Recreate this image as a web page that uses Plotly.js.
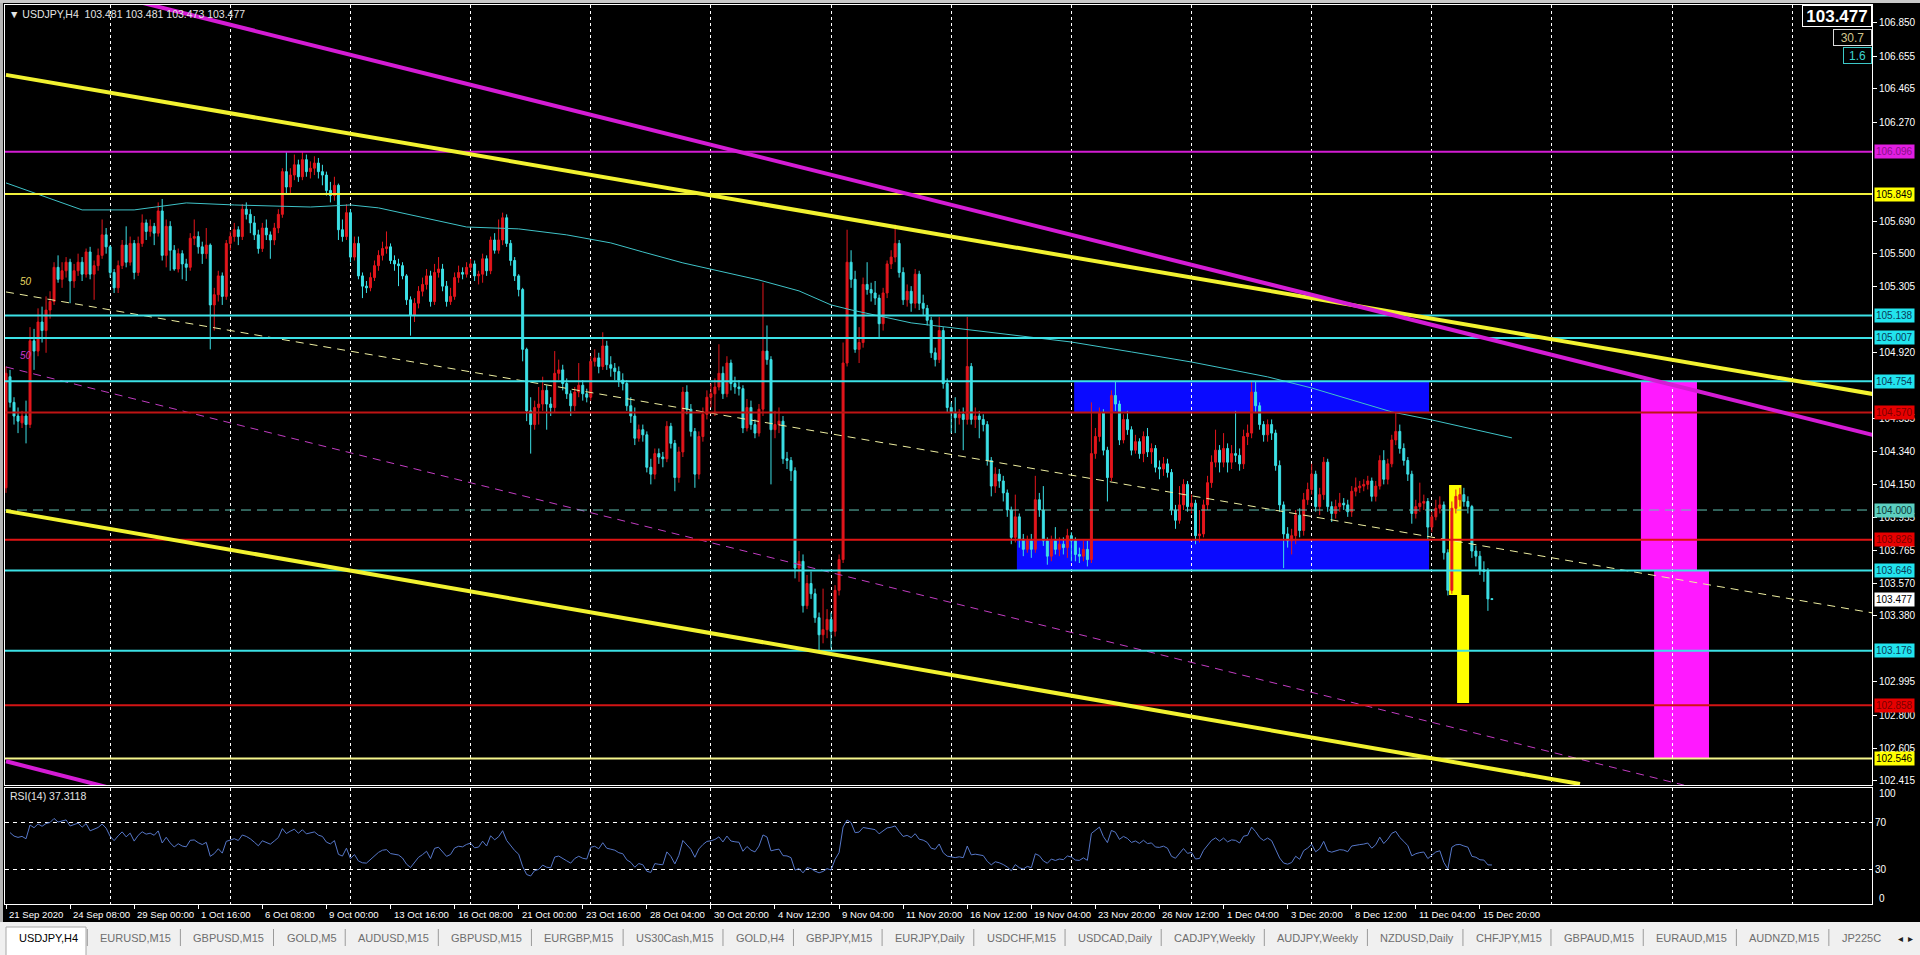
<!DOCTYPE html>
<html>
<head>
<meta charset="utf-8">
<title>USDJPY,H4</title>
<script src="https://cdn.plot.ly/plotly-3.0.1.min.js"></script>
<style>
  html, body { margin: 0; padding: 0; background: #000; overflow: hidden; }
  #chart { width: 1920px; height: 955px; }
</style>
</head>
<body>
<div id="chart"></div>
<script>
// ---- bars (H4, index 0 = first visible bar) ----
var opens = [
104.13,104.78,104.63,104.55,104.51,104.55,104.50,104.99,104.93,105.10,
105.05,105.17,105.22,105.42,105.35,105.40,105.45,105.34,105.40,105.45,
105.38,105.51,105.38,105.43,105.49,105.61,105.54,105.39,105.30,105.43,
105.55,105.45,105.56,105.39,105.56,105.68,105.63,105.66,105.62,105.75,
105.49,105.66,105.52,105.41,105.50,105.44,105.42,105.59,105.60,105.54,
105.50,105.55,105.20,105.26,105.37,105.25,105.56,105.60,105.64,105.60,
105.76,105.73,105.68,105.61,105.53,105.65,105.61,105.58,105.65,105.73,
105.98,105.89,105.96,106.02,105.95,106.05,105.98,106.00,106.03,105.98,
105.96,105.87,105.84,105.90,105.64,105.60,105.74,105.48,105.56,105.37,
105.31,105.30,105.36,105.43,105.49,105.53,105.54,105.46,105.44,105.43,
105.37,105.23,105.14,105.21,105.28,105.32,105.37,105.22,105.39,105.41,
105.31,105.22,105.25,105.36,105.39,105.38,105.42,105.44,105.37,105.38,
105.47,105.40,105.58,105.52,105.58,105.71,105.56,105.46,105.37,105.29,
104.94,104.58,104.50,104.60,104.62,104.70,104.62,104.60,104.80,104.82,
104.74,104.68,104.61,104.69,104.73,104.68,104.66,104.87,104.89,104.84,
104.96,104.85,104.83,104.81,104.76,104.74,104.61,104.55,104.42,104.47,
104.44,104.25,104.21,104.33,104.31,104.30,104.49,104.39,104.19,104.34,
104.69,104.59,104.46,104.21,104.43,104.56,104.66,104.68,104.72,104.80,
104.68,104.86,104.74,104.72,104.71,104.48,104.60,104.50,104.45,104.59,
104.93,104.88,104.47,104.50,104.52,104.30,104.29,104.23,103.66,103.70,
103.44,103.57,103.51,103.37,103.27,103.30,103.36,103.29,103.53,103.71,
104.86,105.45,105.35,104.94,104.98,105.32,105.29,105.27,105.24,105.09,
105.27,105.44,105.48,105.56,105.39,105.23,105.28,105.21,105.38,105.21,
105.18,105.11,104.92,104.88,105.05,104.74,104.60,104.57,104.54,104.56,
104.53,104.84,104.53,104.55,104.53,104.50,104.29,104.14,104.21,104.17,
104.10,104.00,103.84,103.96,103.83,103.77,103.82,103.77,104.06,104.00,
103.82,103.73,103.82,103.77,103.80,103.78,103.85,103.82,103.74,103.73,
103.77,103.71,104.33,104.43,104.57,104.35,104.19,104.67,104.62,104.41,
104.53,104.47,104.35,104.40,104.33,104.43,104.34,104.36,104.25,104.24,
104.27,104.22,104.00,103.94,104.03,104.15,104.02,104.04,103.85,103.86,
104.03,104.16,104.28,104.35,104.28,104.36,104.28,104.33,104.32,104.27,
104.43,104.45,104.69,104.61,104.50,104.44,104.50,104.45,104.26,104.03,
103.86,103.82,103.85,103.97,103.88,104.06,104.12,104.21,104.02,104.09,
104.28,104.02,103.98,104.02,104.04,104.03,103.99,104.11,104.13,104.14,
104.15,104.17,104.08,104.14,104.29,104.18,104.27,104.41,104.46,104.36,
104.29,104.21,103.98,104.02,104.04,104.05,103.90,103.96,104.01,104.03,
103.75,103.53,104.01,104.06,104.09,104.05,104.02,103.76,103.73,103.65,
103.64,103.481
];
var highs = [
104.84,104.82,104.66,104.60,104.58,104.64,105.07,105.06,105.18,105.19,
105.25,105.28,105.45,105.49,105.45,105.48,105.47,105.44,105.50,105.48,
105.53,105.54,105.46,105.53,105.70,105.65,105.55,105.41,105.46,105.58,
105.66,105.60,105.58,105.60,105.73,105.70,105.70,105.68,105.80,105.82,
105.70,105.69,105.55,105.53,105.52,105.47,105.62,105.70,105.63,105.57,
105.65,105.56,105.30,105.40,105.39,105.58,105.63,105.68,105.66,105.79,
105.80,105.76,105.72,105.64,105.68,105.70,105.63,105.68,105.76,106.00,
106.10,106.00,106.08,106.05,106.10,106.08,106.04,106.07,106.06,106.02,
105.98,105.92,105.95,105.91,105.70,105.79,105.76,105.60,105.60,105.39,
105.34,105.39,105.46,105.52,105.57,105.63,105.56,105.49,105.47,105.45,
105.38,105.25,105.24,105.31,105.36,105.41,105.40,105.44,105.48,105.44,
105.34,105.30,105.39,105.43,105.42,105.45,105.47,105.46,105.40,105.50,
105.49,105.60,105.62,105.70,105.74,105.73,105.58,105.48,105.38,105.30,
104.95,104.66,104.64,104.72,104.78,104.73,104.66,104.93,104.88,104.85,
104.77,104.70,104.72,104.86,104.76,104.71,104.90,104.94,104.92,105.04,
104.99,104.90,104.86,104.84,104.80,104.76,104.66,104.60,104.50,104.50,
104.46,104.30,104.36,104.36,104.34,104.52,104.51,104.41,104.37,104.72,
104.73,104.62,104.48,104.46,104.60,104.70,104.74,104.77,104.97,104.84,
104.90,104.88,104.78,104.76,104.73,104.65,104.64,104.53,104.62,105.33,
105.08,104.90,104.58,104.60,104.55,104.34,104.31,104.25,103.76,103.74,
103.62,103.64,103.54,103.40,103.54,103.42,103.40,103.56,103.74,104.98,
105.64,105.52,105.40,105.07,105.36,105.45,105.33,105.34,105.26,105.30,
105.46,105.52,105.67,105.58,105.42,105.32,105.31,105.41,105.40,105.26,
105.20,105.13,104.95,105.13,105.07,104.77,104.63,104.66,104.59,104.60,
105.13,104.86,104.60,104.58,104.56,104.52,104.31,104.25,104.24,104.20,
104.12,104.02,104.09,103.98,103.86,103.85,103.86,104.20,104.10,104.14,
103.84,103.85,103.90,103.84,103.84,103.89,103.87,103.84,103.78,103.82,
103.82,104.63,104.48,104.60,104.59,104.37,104.70,104.75,104.64,104.56,
104.58,104.49,104.44,104.42,104.46,104.48,104.39,104.38,104.29,104.31,
104.30,104.24,104.03,104.14,104.18,104.17,104.09,104.06,104.00,104.06,
104.20,104.32,104.47,104.38,104.45,104.39,104.38,104.58,104.36,104.47,
104.50,104.75,104.75,104.63,104.52,104.53,104.53,104.47,104.29,104.05,
103.90,103.89,104.00,104.01,104.10,104.16,104.27,104.23,104.13,104.31,
104.30,104.05,104.06,104.10,104.07,104.06,104.14,104.19,104.17,104.18,
104.20,104.19,104.17,104.32,104.35,104.30,104.44,104.57,104.50,104.39,
104.31,104.23,104.06,104.16,104.09,104.07,103.99,104.06,104.08,104.05,
103.77,104.05,104.12,104.13,104.13,104.08,104.03,103.79,103.76,103.70,
103.66,103.481
];
var lows = [
104.10,104.60,104.50,104.45,104.48,104.39,104.48,104.82,104.90,104.98,
104.92,105.12,105.20,105.33,105.30,105.36,105.21,105.30,105.37,105.34,
105.36,105.35,105.23,105.40,105.47,105.50,105.36,105.27,105.27,105.41,
105.42,105.43,105.35,105.37,105.54,105.58,105.60,105.55,105.60,105.46,
105.42,105.40,105.40,105.39,105.35,105.34,105.40,105.55,105.50,105.44,
105.47,104.94,105.05,105.22,105.20,105.23,105.52,105.57,105.55,105.58,
105.70,105.62,105.58,105.50,105.51,105.58,105.47,105.55,105.62,105.71,
105.85,105.85,105.93,105.92,105.93,105.95,105.94,105.96,105.94,105.90,
105.84,105.80,105.81,105.58,105.57,105.58,105.45,105.46,105.35,105.24,
105.27,105.28,105.34,105.40,105.46,105.50,105.44,105.40,105.31,105.35,
105.20,105.02,105.10,105.18,105.25,105.29,105.19,105.20,105.36,105.28,
105.19,105.20,105.23,105.33,105.35,105.36,105.40,105.34,105.32,105.33,
105.37,105.38,105.50,105.50,105.55,105.54,105.43,105.34,105.25,104.87,
104.52,104.33,104.47,104.50,104.58,104.47,104.55,104.57,104.76,104.70,
104.65,104.55,104.58,104.66,104.64,104.63,104.64,104.84,104.80,104.82,
104.82,104.78,104.76,104.72,104.70,104.58,104.51,104.38,104.40,104.40,
104.22,104.15,104.18,104.27,104.25,104.28,104.36,104.11,104.16,104.31,
104.56,104.43,104.13,104.18,104.40,104.53,104.60,104.55,104.70,104.65,
104.66,104.70,104.68,104.67,104.45,104.46,104.47,104.42,104.43,104.55,
104.85,104.15,104.42,104.45,104.27,104.24,104.17,103.60,103.58,103.40,
103.42,103.48,103.34,103.18,103.22,103.25,103.19,103.26,103.50,103.69,
104.84,105.30,104.92,104.86,104.95,105.26,105.22,105.20,105.00,105.05,
105.24,105.41,105.45,105.36,105.20,105.19,105.16,105.18,105.17,105.14,
105.08,104.89,104.84,104.86,104.71,104.57,104.45,104.45,104.50,104.35,
104.50,104.50,104.48,104.42,104.46,104.26,104.08,104.10,104.13,104.05,
103.96,103.80,103.81,103.78,103.73,103.75,103.72,103.75,103.96,103.79,
103.68,103.70,103.74,103.73,103.74,103.72,103.70,103.70,103.69,103.70,
103.67,103.69,104.30,104.40,104.32,104.05,104.17,104.58,104.38,104.39,
104.44,104.32,104.33,104.30,104.28,104.31,104.27,104.22,104.18,104.20,
104.19,103.97,103.89,103.92,104.00,103.99,103.98,103.80,103.81,103.84,
104.00,104.13,104.25,104.22,104.25,104.22,104.24,104.28,104.23,104.24,
104.38,104.42,104.57,104.47,104.40,104.40,104.41,104.23,103.99,103.66,
103.78,103.74,103.80,103.84,103.85,104.03,104.09,103.99,103.97,104.06,
103.99,103.93,103.95,103.99,104.00,103.96,103.96,104.08,104.10,104.11,
104.12,104.05,104.05,104.12,104.15,104.15,104.25,104.38,104.33,104.26,
104.17,103.92,103.95,103.99,104.00,103.83,103.87,103.94,103.98,103.71,
103.50,103.51,103.98,104.02,104.02,103.98,103.72,103.67,103.62,103.58,
103.41,103.473
];
var closes = [
104.80,104.63,104.55,104.52,104.55,104.50,104.99,104.93,105.10,105.05,
105.17,105.22,105.42,105.35,105.40,105.45,105.34,105.40,105.45,105.38,
105.51,105.38,105.43,105.49,105.61,105.54,105.39,105.30,105.43,105.55,
105.45,105.56,105.39,105.56,105.68,105.63,105.66,105.62,105.75,105.49,
105.66,105.52,105.41,105.50,105.44,105.42,105.59,105.60,105.54,105.50,
105.55,105.20,105.26,105.37,105.25,105.56,105.60,105.64,105.60,105.76,
105.73,105.68,105.61,105.53,105.65,105.61,105.58,105.65,105.73,105.98,
105.89,105.96,106.02,105.95,106.05,105.98,106.00,106.03,105.98,105.96,
105.87,105.84,105.90,105.64,105.60,105.74,105.48,105.56,105.37,105.31,
105.30,105.36,105.43,105.49,105.53,105.54,105.46,105.44,105.43,105.37,
105.23,105.14,105.21,105.28,105.32,105.37,105.22,105.39,105.41,105.31,
105.22,105.25,105.36,105.39,105.38,105.42,105.44,105.37,105.38,105.47,
105.40,105.58,105.52,105.58,105.71,105.56,105.46,105.37,105.29,104.94,
104.58,104.50,104.60,104.62,104.70,104.62,104.60,104.80,104.82,104.74,
104.68,104.61,104.69,104.73,104.68,104.66,104.87,104.89,104.84,104.96,
104.85,104.83,104.81,104.76,104.74,104.61,104.55,104.42,104.47,104.44,
104.25,104.21,104.33,104.31,104.30,104.49,104.39,104.19,104.34,104.69,
104.59,104.46,104.21,104.43,104.56,104.66,104.68,104.72,104.80,104.68,
104.86,104.74,104.72,104.71,104.48,104.60,104.50,104.45,104.59,104.93,
104.88,104.47,104.50,104.52,104.30,104.29,104.23,103.66,103.70,103.44,
103.57,103.51,103.37,103.27,103.30,103.36,103.29,103.53,103.71,104.86,
105.45,105.35,104.94,104.98,105.32,105.29,105.27,105.24,105.09,105.27,
105.44,105.48,105.56,105.39,105.23,105.28,105.21,105.38,105.21,105.18,
105.11,104.92,104.88,105.05,104.74,104.60,104.57,104.54,104.56,104.53,
104.84,104.53,104.55,104.53,104.50,104.29,104.14,104.21,104.17,104.10,
104.00,103.84,103.96,103.83,103.77,103.82,103.77,104.06,104.00,103.82,
103.73,103.82,103.77,103.80,103.78,103.85,103.82,103.74,103.73,103.77,
103.71,104.33,104.43,104.57,104.35,104.19,104.67,104.62,104.41,104.53,
104.47,104.35,104.40,104.33,104.43,104.34,104.36,104.25,104.24,104.27,
104.22,104.00,103.94,104.03,104.15,104.02,104.04,103.85,103.86,104.03,
104.16,104.28,104.35,104.28,104.36,104.28,104.33,104.32,104.27,104.43,
104.45,104.69,104.61,104.50,104.44,104.50,104.45,104.26,104.03,103.86,
103.82,103.85,103.97,103.88,104.06,104.12,104.21,104.02,104.09,104.28,
104.02,103.98,104.02,104.04,104.03,103.99,104.11,104.13,104.14,104.15,
104.17,104.08,104.14,104.29,104.18,104.27,104.41,104.46,104.36,104.29,
104.21,103.98,104.02,104.04,104.05,103.90,103.96,104.01,104.03,103.75,
103.53,104.01,104.08,104.09,104.05,104.02,103.76,103.73,103.65,103.64,
103.48,103.477
];

// time axis labels (bar index -> text)
var labelIdx = [0,16,32,48,64,80,96,112,128,144,160,176,192,208,224,240,256,272,288,304,320,336,352,368];
var labelText = ['21 Sep 2020','24 Sep 08:00','29 Sep 00:00','1 Oct 16:00','6 Oct 08:00','9 Oct 00:00',
  '13 Oct 16:00','16 Oct 08:00','21 Oct 00:00','23 Oct 16:00','28 Oct 04:00','30 Oct 20:00',
  '4 Nov 12:00','9 Nov 04:00','11 Nov 20:00','16 Nov 12:00','19 Nov 04:00','23 Nov 20:00',
  '26 Nov 12:00','1 Dec 04:00','3 Dec 20:00','8 Dec 12:00','11 Dec 04:00','15 Dec 20:00'];

// price scale labels (those hidden under the level boxes left out)
var priceTicks = [106.850,106.655,106.465,106.270,105.690,105.500,105.305,
  104.920,104.535,104.340,104.150,103.955,103.765,103.570,103.380,
  102.995,102.800,102.605,102.415];

// moving average
var maIdx = [0,19,32,45,57,76,86,93,115,128,140,151,159,169,188,198,206,211,226,252,266,281,296,315,326,346,356,376];
var maVal = [105.914,105.756,105.756,105.797,105.785,105.773,105.785,105.768,105.656,105.645,105.610,105.563,
  105.510,105.446,105.346,105.282,105.200,105.171,105.095,105.024,104.983,104.925,104.866,104.779,
  104.714,104.574,104.527,104.422];

// horizontal price levels
var levelPrices = [106.096,105.849,105.138,105.007,104.754,104.570,104.000,103.826,103.646,103.176,102.858,102.546];

// trend lines: bar index / price of both ends
var trendX0 = [0, 0, 20, 0, 0, 0];
var trendY0 = [106.546, 103.995, 107.05, 102.53, 105.276, 104.837];
var trendX1 = [466, 393, 466, 30, 466, 419];
var trendY1 = [104.679, 102.397, 104.44, 102.35, 103.398, 102.39];

// zones
var zoneX0 = [266.7, 252.4, 408.2, 411.5, 360.3, 362.3];
var zoneX1 = [355.3, 355.3, 422.2, 425.2, 363.4, 365.3];
var zoneY0 = [104.570, 103.646, 103.646, 102.546, 103.503, 102.871];
var zoneY1 = [104.754, 103.826, 104.754, 103.646, 104.147, 103.503];

var tabNames = ['USDJPY,H4','EURUSD,M15','GBPUSD,M15','GOLD,M5','AUDUSD,M15','GBPUSD,M15','EURGBP,M15',
  'US30Cash,M15','GOLD,H4','GBPJPY,M15','EURJPY,Daily','USDCHF,M15','USDCAD,Daily','CADJPY,Weekly',
  'AUDJPY,Weekly','NZDUSD,Daily','CHFJPY,M15','GBPAUD,M15','EURAUD,M15','AUDNZD,M15','JP225C'];

// ---- styles ----
var W = 1920, H = 955;
function px(x) { return x / W; }
function py(y) { return 1 - y / H; }
var FONT = 'Liberation Sans, Arial, sans-serif';
var xMin = -0.25, xMax = 465.9;
var yMin = 102.391, yMax = 106.955;
var UP = '#e3161c', DOWN = '#3ce0e6', CYAN = '#3ce1e6';

var levelColor = ['#d21cd2','#f0f03c',CYAN,CYAN,CYAN,'#bf1414','#62c4b4','#e01414',CYAN,CYAN,'#d21414','#f5f58c'];
var levelWidth = [2,2,2,2,2,2,1,2,2,2,2,2];
var levelDash = ['solid','solid','solid','solid','solid','solid','10px,6px','solid','solid','solid','solid','solid'];
var boxBg = ['#e21ee2','#ffff00','#22e4ee','#22e4ee','#22e4ee','#e60000','#5ccfc0','#e60000','#22e4ee','#22e4ee','#e60000','#ffff00'];
var boxFg = ['#8a108a','#000000','#0a3a58','#0a3a58','#0a3a58','#7a0000','#0e3a3a','#7a0000','#0a3a58','#0a3a58','#7a0000','#000000'];

var trendColor = ['#f2f230','#f2f230','#d41cd4','#d41cd4','#eeeea0','#c23cc2'];
var trendWidth = [4, 4, 4, 4, 1, 1];
var trendDash = ['solid','solid','solid','solid','8px,6px','8px,6px'];

var zoneFill = ['#0a0aff','#0a0aff','#ff19ff','#ff19ff','#ffff00','#ffff00'];

function rsi(c, n) {
  var g = 0, l = 0;
  for (var i = 1; i <= n; i++) {
    var d = c[i] - c[i - 1];
    if (d > 0) g += d; else l -= d;
  }
  g /= n; l /= n;
  var out = [null];
  for (var i = 1; i < c.length; i++) {
    var d = c[i] - c[i - 1];
    g = (g * (n - 1) + Math.max(d, 0)) / n;
    l = (l * (n - 1) + Math.max(-d, 0)) / n;
    out.push(l === 0 ? 100 : 100 - 100 / (1 + g / l));
  }
  return out;
}

var bars = closes.map(function (v, i) { return i; });
var traces = [];

traces.push({ type: 'scatter', mode: 'lines', x: maIdx, y: maVal,
  line: { color: '#3fc3c8', width: 1 }, hoverinfo: 'skip' });

for (var t = 4; t < 6; t++) {
  traces.push({ type: 'scatter', mode: 'lines', x: [trendX0[t], trendX1[t]], y: [trendY0[t], trendY1[t]],
    line: { color: trendColor[t], width: trendWidth[t], dash: trendDash[t] }, hoverinfo: 'skip' });
}

traces.push({
  type: 'candlestick', x: bars, open: opens, high: highs, low: lows, close: closes,
  increasing: { line: { color: UP, width: 1 }, fillcolor: UP },
  decreasing: { line: { color: DOWN, width: 1 }, fillcolor: DOWN },
  whiskerwidth: 0, hoverinfo: 'skip'
});

for (var k = 0; k < levelPrices.length; k++) {
  traces.push({ type: 'scatter', mode: 'lines', x: [xMin - 1, xMax + 1], y: [levelPrices[k], levelPrices[k]],
    line: { color: levelColor[k], width: levelWidth[k], dash: levelDash[k] }, hoverinfo: 'skip' });
}

for (var t = 0; t < 4; t++) {
  traces.push({ type: 'scatter', mode: 'lines', x: [trendX0[t], trendX1[t]], y: [trendY0[t], trendY1[t]],
    line: { color: trendColor[t], width: trendWidth[t] }, hoverinfo: 'skip' });
}

var rsiVals = rsi(closes, 14);
traces.push({ type: 'scatter', mode: 'lines', x: bars, y: rsiVals, xaxis: 'x2', yaxis: 'y2',
  line: { color: '#5677c8', width: 1 }, hoverinfo: 'skip' });
traces.push({ type: 'scatter', mode: 'markers', x: [], y: [], xaxis: 'x3', yaxis: 'y2', hoverinfo: 'skip' });

// ---- shapes ----
var shapes = [];
for (var z = 0; z < zoneFill.length; z++) {
  shapes.push({ type: 'rect', xref: 'x', yref: 'y', x0: zoneX0[z], x1: zoneX1[z], y0: zoneY0[z], y1: zoneY1[z],
    fillcolor: zoneFill[z], line: { width: 0 }, layer: 'below' });
}
// window chrome (kept under the axis labels)
shapes.push({ type: 'rect', xref: 'paper', yref: 'paper', x0: 0, x1: 1, y0: 0, y1: py(922),
  fillcolor: '#f0f0f0', line: { width: 0 }, layer: 'below' });
shapes.push({ type: 'rect', xref: 'paper', yref: 'paper', x0: px(6), x1: px(86), y0: -0.01, y1: py(927),
  fillcolor: '#ffffff', line: { color: '#a8a8a8', width: 1 }, layer: 'below' });
shapes.push({ type: 'rect', xref: 'paper', yref: 'paper', x0: 0, x1: px(3), y0: py(922), y1: 1,
  fillcolor: '#b4b4b4', line: { width: 0 }, layer: 'below' });
shapes.push({ type: 'rect', xref: 'paper', yref: 'paper', x0: 0, x1: 1, y0: py(3), y1: 1,
  fillcolor: '#c8c8c8', line: { width: 0 }, layer: 'below' });

// ---- annotations ----
var ann = [];
for (var k = 0; k < levelPrices.length; k++) {
  ann.push({ xref: 'paper', yref: 'y', x: px(1874), y: levelPrices[k], xanchor: 'left', yanchor: 'middle',
    text: levelPrices[k].toFixed(3), showarrow: false, bgcolor: boxBg[k], borderpad: 1,
    font: { family: FONT, size: 10, color: boxFg[k] } });
}
var last = closes[closes.length - 1];
ann.push({ xref: 'paper', yref: 'y', x: px(1874), y: last, xanchor: 'left', yanchor: 'middle',
  text: last.toFixed(3), showarrow: false, bgcolor: '#ffffff', borderpad: 1,
  font: { family: FONT, size: 10, color: '#000000' } });

ann.push({ xref: 'paper', yref: 'paper', x: px(7), y: py(14), xanchor: 'left', yanchor: 'middle', showarrow: false,
  text: '\u25BC USDJPY,H4  ' + opens[opens.length - 1].toFixed(3) + ' ' + highs[highs.length - 1].toFixed(3) + ' ' +
    lows[lows.length - 1].toFixed(3) + ' ' + last.toFixed(3),
  font: { family: FONT, size: 10.5, color: '#e4e4e4' } });
ann.push({ xref: 'paper', yref: 'paper', x: px(1837), y: py(16.5), xanchor: 'center', yanchor: 'middle', showarrow: false,
  text: '<b>' + last.toFixed(3) + '</b>', bgcolor: '#000000', bordercolor: '#ffffff', borderwidth: 1,
  width: 66, height: 18, font: { family: FONT, size: 17, color: '#ffffff' } });
ann.push({ xref: 'paper', yref: 'paper', x: px(1852.5), y: py(37), xanchor: 'center', yanchor: 'middle', showarrow: false,
  text: '30.7', bgcolor: '#000000', bordercolor: '#dcdcdc', borderwidth: 1, width: 35, height: 13,
  font: { family: FONT, size: 12, color: '#d2c58e' } });
ann.push({ xref: 'paper', yref: 'paper', x: px(1857.5), y: py(55), xanchor: 'center', yanchor: 'middle', showarrow: false,
  text: '1.6', bgcolor: '#000000', bordercolor: '#3cc8c8', borderwidth: 1, width: 25, height: 13,
  font: { family: FONT, size: 12, color: '#3cd2d2' } });

ann.push({ xref: 'x', yref: 'y', x: 3, y: 105.34, xanchor: 'left', yanchor: 'middle', showarrow: false,
  text: '50', font: { family: FONT, size: 10, color: '#e8d860', style: 'italic' } });
ann.push({ xref: 'x', yref: 'y', x: 3, y: 104.905, xanchor: 'left', yanchor: 'middle', showarrow: false,
  text: '50', font: { family: FONT, size: 10, color: '#c83cc8', style: 'italic' } });

ann.push({ xref: 'paper', yref: 'paper', x: px(8), y: py(796), xanchor: 'left', yanchor: 'middle', showarrow: false,
  text: 'RSI(14) 37.3118', font: { family: FONT, size: 10.5, color: '#e4e4e4' } });
ann.push({ xref: 'paper', yref: 'y2', x: px(1877), y: 95, xanchor: 'left', yanchor: 'middle', showarrow: false,
  text: '100', font: { family: FONT, size: 10, color: '#ffffff' } });
ann.push({ xref: 'paper', yref: 'y2', x: px(1877), y: 5, xanchor: 'left', yanchor: 'middle', showarrow: false,
  text: '0', font: { family: FONT, size: 10, color: '#ffffff' } });

// date labels under the RSI panel, left-aligned on their tick like the terminal draws them
for (var j = 0; j < labelIdx.length; j++) {
  ann.push({ xref: 'x2', yref: 'paper', x: labelIdx[j], y: py(914), xanchor: 'left', yanchor: 'middle',
    xshift: 1, showarrow: false, text: labelText[j], font: { family: FONT, size: 9.6, color: '#ffffff' } });
}

// tab bar
var ctx = document.createElement('canvas').getContext('2d');
ctx.font = '11px "Liberation Sans"';
var tx = 17;
for (var n = 0; n < tabNames.length; n++) {
  if (n > 0) {
    shapes.push({ type: 'line', xref: 'paper', yref: 'paper', x0: px(tx - 11), x1: px(tx - 11), y0: py(946), y1: py(929),
      line: { color: '#9a9a9a', width: 1 } });
  }
  ann.push({ xref: 'paper', yref: 'paper', x: px(tx), y: py(938), xanchor: 'left', yanchor: 'middle', showarrow: false,
    text: tabNames[n], font: { family: FONT, size: 11, color: n === 0 ? '#000000' : '#6e6e6e' } });
  tx += ctx.measureText(tabNames[n]).width + 22.2;
}
ann.push({ xref: 'paper', yref: 'paper', x: px(1900), y: py(938), xanchor: 'center', yanchor: 'middle', showarrow: false,
  text: '\u25C2', bgcolor: '#f0f0f0', font: { family: 'DejaVu Sans', size: 10, color: '#202020' } });
ann.push({ xref: 'paper', yref: 'paper', x: px(1910), y: py(938), xanchor: 'center', yanchor: 'middle', showarrow: false,
  text: '\u25B8', bgcolor: '#f0f0f0', font: { family: 'DejaVu Sans', size: 10, color: '#202020' } });

var gridX = { tickmode: 'linear', tick0: 26, dtick: 30, showticklabels: false, ticks: '',
  showgrid: true, gridcolor: '#ffffff', gridwidth: 1, griddash: '3px,3px', zeroline: false,
  showline: true, mirror: true, linecolor: '#ffffff', linewidth: 1, range: [xMin, xMax], fixedrange: true };

var layout = {
  width: W, height: H, margin: { l: 0, r: 0, t: 0, b: 0 },
  paper_bgcolor: '#000000', plot_bgcolor: '#000000',
  showlegend: false, hovermode: false, dragmode: false,
  font: { family: FONT, color: '#ffffff', size: 10 },
  xaxis: Object.assign({}, gridX, { domain: [px(5), px(1872)], anchor: 'y', rangeslider: { visible: false } }),
  yaxis: { domain: [py(785), py(5)], range: [yMin, yMax], anchor: 'x', side: 'right',
    tickmode: 'array', tickvals: priceTicks, ticktext: priceTicks.map(function (v) { return v.toFixed(3); }),
    ticks: 'outside', ticklen: 4, tickcolor: '#ffffff', tickfont: { family: FONT, size: 10, color: '#ffffff' },
    showgrid: false, zeroline: false, showline: true, mirror: true, linecolor: '#ffffff', fixedrange: true },
  xaxis2: Object.assign({}, gridX, { domain: [px(5), px(1872)], anchor: 'y2' }),
  yaxis2: { domain: [py(904), py(788)], range: [0, 100], anchor: 'x2', side: 'right',
    tickmode: 'array', tickvals: [70, 30], ticktext: ['70', '30'], ticks: '',
    tickfont: { family: FONT, size: 10, color: '#ffffff' },
    showgrid: true, gridcolor: '#ffffff', griddash: '4px,4px', gridwidth: 1, zeroline: false,
    showline: true, mirror: true, linecolor: '#ffffff', fixedrange: true },
  xaxis3: { overlaying: 'x2', anchor: 'y2', domain: [px(5), px(1872)], range: [xMin, xMax],
    tickmode: 'array', tickvals: labelIdx, ticktext: labelIdx.map(function () { return ''; }),
    ticks: 'outside', ticklen: 4, tickcolor: '#ffffff',
    showgrid: false, zeroline: false, showline: false, fixedrange: true },
  shapes: shapes,
  annotations: ann
};

Plotly.newPlot('chart', traces, layout, { displayModeBar: false, staticPlot: true });
</script>
</body>
</html>
